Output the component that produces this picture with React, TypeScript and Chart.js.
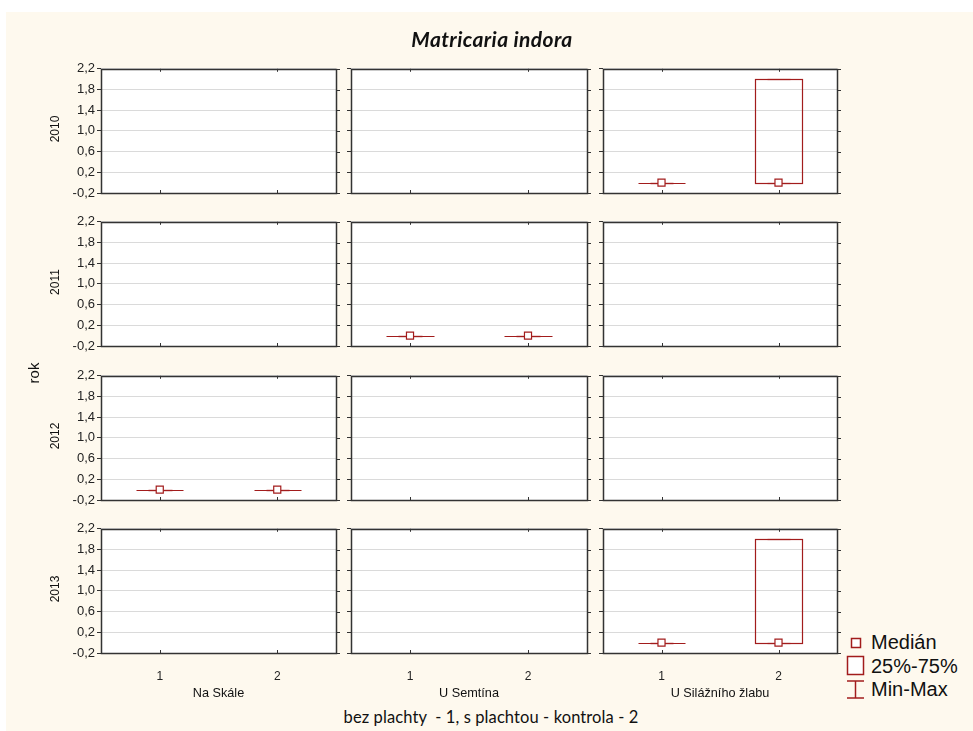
import React, { useEffect, useRef } from 'react';
import { Chart, registerables } from 'chart.js';

Chart.register(...registerables);

// ---------- data ----------
const chartTitle = 'Matricaria indora';
const xAxisTitle = 'bez plachty  - 1, s plachtou - kontrola - 2';
const yAxisTitle = 'rok';
const sites = ['Na Skále', 'U Semtína', 'U Silážního žlabu'];
const years = ['2010', '2011', '2012', '2013'];
const groups = [1, 2];
const yGridValues = [-0.2, 0, 0.2, 0.4, 0.6, 0.8, 1.0, 1.2, 1.4, 1.6, 1.8, 2.0, 2.2];
const yLabelValues = [-0.2, 0.2, 0.6, 1.0, 1.4, 1.8, 2.2];
const legendLabels = ['Medián', '25%-75%', 'Min-Max'];

// indexed [year][site][group]; null = no data
const medians: (number | null)[][][] = [
  [[null, null], [null, null], [0, 0]],
  [[null, null], [0, 0], [null, null]],
  [[0, 0], [null, null], [null, null]],
  [[null, null], [null, null], [0, 0]],
];
const q1s: (number | null)[][][] = [
  [[null, null], [null, null], [0, 0]],
  [[null, null], [0, 0], [null, null]],
  [[0, 0], [null, null], [null, null]],
  [[null, null], [null, null], [0, 0]],
];
const q3s: (number | null)[][][] = [
  [[null, null], [null, null], [0, 2]],
  [[null, null], [0, 0], [null, null]],
  [[0, 0], [null, null], [null, null]],
  [[null, null], [null, null], [0, 2]],
];
const mins: (number | null)[][][] = [
  [[null, null], [null, null], [0, 0]],
  [[null, null], [0, 0], [null, null]],
  [[0, 0], [null, null], [null, null]],
  [[null, null], [null, null], [0, 0]],
];
const maxs: (number | null)[][][] = [
  [[null, null], [null, null], [0, 2]],
  [[null, null], [0, 0], [null, null]],
  [[0, 0], [null, null], [null, null]],
  [[null, null], [null, null], [0, 2]],
];

// ---------- layout / style ----------
const BG = '#fef9ee';
const RED = '#a21c1c';
const FRAME = '#333333';
const GRID = '#dadada';
const SANS = "'Liberation Sans', Arial, sans-serif";
const colLefts = [101, 351, 603];
const colRights = [336, 587, 837];
const rowTops = [65, 218, 372, 525];
const panelH = 128;
const PL = 50; // reserved left (y axis)
const PR = 8;
const PT = 6;
const PB = 30; // reserved bottom (x axis)
const BOX_HALF = 0.2;
const CAP_HALF = 0.1;

const boxPlugin = {
  id: 'boxes',
  beforeDraw(chart: any) {
    const { ctx, chartArea: a } = chart;
    ctx.save();
    ctx.fillStyle = '#ffffff';
    ctx.fillRect(a.left, a.top, a.width, a.height);
    ctx.restore();
  },
  beforeDatasetsDraw(chart: any, _args: any, opts: any) {
    const { ctx } = chart;
    const xs = chart.scales.x;
    const ys = chart.scales.y;
    const items = (opts && opts.items) || [];
    ctx.save();
    ctx.strokeStyle = RED;
    ctx.lineWidth = 1.2;
    const line = (x1: number, y1: number, x2: number, y2: number) => {
      ctx.beginPath();
      ctx.moveTo(x1, y1);
      ctx.lineTo(x2, y2);
      ctx.stroke();
    };
    for (const it of items) {
      const xl = Math.round(xs.getPixelForValue(it.x - BOX_HALF)) + 0.5;
      const xr = Math.round(xs.getPixelForValue(it.x + BOX_HALF)) + 0.5;
      const xc = Math.round(xs.getPixelForValue(it.x)) + 0.5;
      const cl = Math.round(xs.getPixelForValue(it.x - CAP_HALF)) + 0.5;
      const cr = Math.round(xs.getPixelForValue(it.x + CAP_HALF)) + 0.5;
      const yTop = Math.round(ys.getPixelForValue(it.q3)) + 0.5;
      const yBot = Math.round(ys.getPixelForValue(it.q1)) + 0.5;
      const yMax = Math.round(ys.getPixelForValue(it.max)) + 0.5;
      const yMin = Math.round(ys.getPixelForValue(it.min)) + 0.5;
      // whiskers
      if (yMax < yTop) line(xc, yMax, xc, yTop);
      if (yMin > yBot) line(xc, yBot, xc, yMin);
      line(cl, yMax, cr, yMax);
      line(cl, yMin, cr, yMin);
      // box
      if (Math.abs(yTop - yBot) < 0.5) {
        line(xl, yTop, xr, yTop);
      } else {
        ctx.strokeRect(xl, yTop, xr - xl, yBot - yTop);
      }
    }
    ctx.restore();
  },
  afterDraw(chart: any) {
    const { ctx, chartArea: a } = chart;
    const xs = chart.scales.x;
    const ys = chart.scales.y;
    ctx.save();
    ctx.strokeStyle = FRAME;
    ctx.lineWidth = 1;
    // right outer ticks
    for (const t of ys.ticks) {
      const y = Math.round(ys.getPixelForValue(t.value)) + 0.5;
      ctx.beginPath();
      ctx.moveTo(a.right, y);
      ctx.lineTo(a.right + 4, y);
      ctx.stroke();
    }
    // inward category ticks on top and bottom
    for (const t of xs.ticks) {
      const x = Math.round(xs.getPixelForValue(t.value)) + 0.5;
      ctx.beginPath();
      ctx.moveTo(x, a.top);
      ctx.lineTo(x, a.top + 3);
      ctx.moveTo(x, a.bottom);
      ctx.lineTo(x, a.bottom - 3);
      ctx.stroke();
    }
    ctx.lineWidth = 1.5;
    ctx.strokeRect(Math.round(a.left) + 0.5, Math.round(a.top) + 0.5, Math.round(a.width), Math.round(a.height));
    ctx.restore();
  },
};

function fmt(v: number) {
  return v.toFixed(1).replace('.', ',').replace('-0,0', '0,0');
}

function Panel({ r, c }: { r: number; c: number }) {
  const ref = useRef<HTMLCanvasElement | null>(null);
  const pw = colRights[c] - colLefts[c];
  const W = PL + pw + PR;
  const H = PT + panelH + PB;
  useEffect(() => {
    const items = groups
      .map((g, i) => ({
        x: g,
        med: medians[r][c][i],
        q1: q1s[r][c][i],
        q3: q3s[r][c][i],
        min: mins[r][c][i],
        max: maxs[r][c][i],
      }))
      .filter((d) => d.med !== null);
    const chart = new Chart(ref.current as HTMLCanvasElement, {
      type: 'scatter',
      data: {
        datasets: [
          {
            data: items.map((d) => ({ x: d.x, y: d.med as number })),
            pointStyle: 'rect',
            pointRadius: 5,
            pointHoverRadius: 5,
            borderColor: RED,
            backgroundColor: '#ffffff',
            borderWidth: 1.2,
          },
        ],
      },
      options: {
        responsive: false,
        animation: false,
        events: [],
        layout: { padding: { top: PT, right: PR, left: 0, bottom: 0 } },
        plugins: {
          legend: { display: false },
          tooltip: { enabled: false },
          // @ts-ignore
          boxes: { items },
        },
        scales: {
          x: {
            type: 'linear',
            min: 0.5,
            max: 2.5,
            afterBuildTicks: (s: any) => {
              s.ticks = groups.map((v) => ({ value: v }));
            },
            afterFit: (s: any) => {
              s.height = PB;
            },
            grid: { display: false },
            border: { display: false },
            ticks: {
              padding: 8,
              color: '#222',
              font: { family: SANS, size: 12 },
              callback: (v: any) => (r === years.length - 1 ? String(v) : ''),
            },
          },
          y: {
            type: 'linear',
            min: -0.2,
            max: 2.2,
            afterBuildTicks: (s: any) => {
              s.ticks = yGridValues.map((v) => ({ value: v }));
            },
            afterFit: (s: any) => {
              s.width = PL;
            },
            grid: { color: GRID, lineWidth: 1, tickLength: 4, tickColor: FRAME, drawTicks: true },
            border: { display: false },
            ticks: {
              padding: 2,
              color: '#222',
              font: { family: SANS, size: 13 },
              callback: (v: any) =>
                c === 0 && yLabelValues.some((l) => Math.abs(l - v) < 1e-6) ? fmt(Number(v)) : '',
            },
          },
        },
      } as any,
      plugins: [boxPlugin],
    });
    return () => chart.destroy();
  }, [r, c]);
  return (
    <canvas
      ref={ref}
      width={W}
      height={H}
      style={{ position: 'absolute', left: colLefts[c] - PL, top: rowTops[r] - PT, width: W, height: H }}
    />
  );
}

function Text({ x, y, children, style }: any) {
  return (
    <div
      style={{
        position: 'absolute',
        left: x,
        top: y,
        transform: 'translate(-50%, -50%)',
        whiteSpace: 'pre',
        lineHeight: 1,
        color: '#111',
        ...style,
      }}
    >
      {children}
    </div>
  );
}

export default function App() {
  const panels: JSX.Element[] = [];
  years.forEach((_, r) => sites.forEach((__, c) => panels.push(<Panel key={`${r}-${c}`} r={r} c={c} />)));
  return (
    <div style={{ position: 'absolute', left: 0, top: 0, width: 973, height: 731, background: '#ffffff', overflow: 'hidden' }}>
      <div style={{ position: 'absolute', left: 6, top: 12, width: 967, height: 719, background: BG }} />
      {panels}
      <Text x={492} y={38} style={{ fontFamily: 'Lato, sans-serif', fontWeight: 700, fontStyle: 'italic', fontSize: 21, letterSpacing: 0.4 }}>
        {chartTitle}
      </Text>
      <Text x={33} y={373} style={{ fontFamily: SANS, fontSize: 15, transform: 'translate(-50%, -50%) rotate(-90deg)' }}>
        {yAxisTitle}
      </Text>
      {years.map((yr, r) => (
        <Text key={yr} x={55} y={rowTops[r] + panelH / 2} style={{ fontFamily: SANS, fontSize: 12, transform: 'translate(-50%, -50%) rotate(-90deg)' }}>
          {yr}
        </Text>
      ))}
      {sites.map((s, c) => (
        <Text key={s} x={(colLefts[c] + colRights[c]) / 2} y={693} style={{ fontFamily: SANS, fontSize: 12.7 }}>
          {s}
        </Text>
      ))}
      <Text x={491} y={717} style={{ fontFamily: 'Lato, sans-serif', fontSize: 16.5, letterSpacing: 0.1 }}>
        {xAxisTitle}
      </Text>
      <svg width={20} height={64} style={{ position: 'absolute', left: 845, top: 636 }}>
        <rect x={6.5} y={2.5} width={9} height={9} fill="#fff" stroke={RED} strokeWidth={1.5} />
        <rect x={2.5} y={20.5} width={16} height={18} fill="#fff" stroke={RED} strokeWidth={1.5} />
        <line x1={10.5} y1={45} x2={10.5} y2={62} stroke={RED} strokeWidth={1.5} />
        <line x1={2} y1={45} x2={19} y2={45} stroke={RED} strokeWidth={1.5} />
        <line x1={2} y1={62} x2={19} y2={62} stroke={RED} strokeWidth={1.5} />
      </svg>
      {legendLabels.map((l, i) => (
        <div
          key={l}
          style={{
            position: 'absolute',
            left: 871,
            top: [642, 666, 689][i],
            transform: 'translateY(-50%)',
            fontFamily: SANS,
            fontSize: 20,
            lineHeight: 1,
            color: '#111',
            whiteSpace: 'pre',
          }}
        >
          {l}
        </div>
      ))}
    </div>
  );
}
